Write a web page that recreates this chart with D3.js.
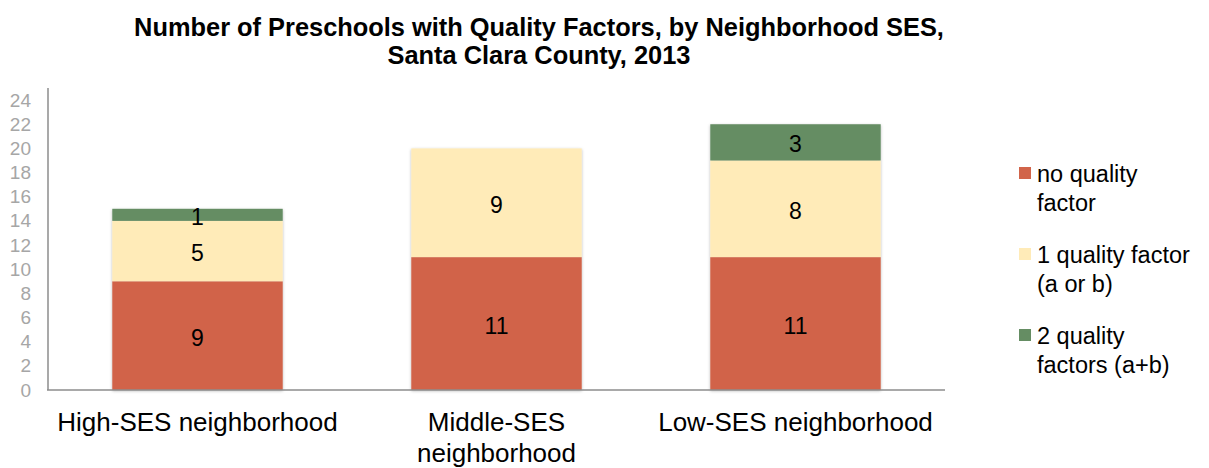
<!DOCTYPE html>
<html>
<head>
<meta charset="utf-8">
<script src="https://cdn.jsdelivr.net/npm/d3@7"></script>
<style>
  html, body { margin: 0; padding: 0; background: #fff; }
  svg { display: block; }
</style>
</head>
<body>
<svg id="chart" width="1209" height="468"></svg>
<script>
// Neighborhood categories (x axis)
const categories = ["High-SES neighborhood", "Middle-SES neighborhood", "Low-SES neighborhood"];
// Category label lines as drawn under the bars
const categoryLines = [["High-SES neighborhood"], ["Middle-SES", "neighborhood"], ["Low-SES neighborhood"]];
// Series, stacked bottom to top
const seriesNames = ["no quality factor", "1 quality factor (a or b)", "2 quality factors (a+b)"];
const noQuality = [9, 11, 11];
const oneQuality = [5, 9, 8];
const twoQuality = [1, 0, 3];
const seriesColors = ["#D1644A", "#FFEBB8", "#658D63"];
// Legend text lines per series
const legendLines = [["no quality", "factor"], ["1 quality factor", "(a or b)"], ["2 quality", "factors (a+b)"]];
// Y axis ticks
const yTicks = [0, 2, 4, 6, 8, 10, 12, 14, 16, 18, 20, 22, 24];

const svg = d3.select("#chart");

const rows = categories.map((c, i) => ({
  cat: c,
  s0: noQuality[i],
  s1: oneQuality[i],
  s2: twoQuality[i]
}));
const keys = ["s0", "s1", "s2"];
const stacked = d3.stack().keys(keys)(rows);

const x = d3.scaleBand().domain(categories).range([48, 945]).paddingInner(0.43).paddingOuter(0.215);
const y = d3.scaleLinear().domain([0, 25]).range([390, 88]);

// Soft shadow under the bars
const defs = svg.append("defs");
const f = defs.append("filter").attr("id", "shadow").attr("x", "-10%").attr("y", "-10%").attr("width", "120%").attr("height", "120%");
f.append("feDropShadow").attr("dx", 0).attr("dy", 1).attr("stdDeviation", 1.6).attr("flood-color", "#000").attr("flood-opacity", 0.28);

// Title
const title = svg.append("text")
  .attr("text-anchor", "middle")
  .attr("font-family", "'Liberation Sans', Arial, sans-serif")
  .attr("font-weight", "bold")
  .attr("font-size", 25.4)
  .attr("fill", "#000");
title.append("tspan").attr("x", 539).attr("y", 36).text("Number of Preschools with Quality Factors, by Neighborhood SES,");
title.append("tspan").attr("x", 539).attr("y", 64).text("Santa Clara County, 2013");

// Bars
const barG = svg.append("g").attr("filter", "url(#shadow)");
stacked.forEach((layer, li) => {
  barG.selectAll(null)
    .data(layer.filter(d => d[1] - d[0] > 0))
    .join("rect")
    .attr("x", d => x(d.data.cat))
    .attr("width", x.bandwidth())
    .attr("y", d => y(d[1]))
    .attr("height", d => y(d[0]) - y(d[1]))
    .attr("fill", seriesColors[li]);
});

// Value labels
stacked.forEach((layer, li) => {
  svg.selectAll(null)
    .data(layer.filter(d => d[1] - d[0] > 0))
    .join("text")
    .attr("x", d => x(d.data.cat) + x.bandwidth() / 2)
    .attr("y", d => (y(d[0]) + y(d[1])) / 2)
    .attr("dy", "0.44em")
    .attr("text-anchor", "middle")
    .attr("font-family", "'Liberation Sans', Arial, sans-serif")
    .attr("font-size", 23)
    .attr("fill", "#000")
    .text(d => d[1] - d[0]);
});

// Y axis
const yAxis = d3.axisLeft(y).tickValues(yTicks).tickSize(0).tickPadding(17);
const yg = svg.append("g").attr("transform", "translate(48,0)").call(yAxis);
yg.select(".domain").remove();
yg.selectAll("text")
  .attr("font-family", "'Liberation Sans', Arial, sans-serif")
  .attr("font-size", 19)
  .attr("fill", "#A6A6A6");

// Axis lines
svg.append("line").attr("x1", 48).attr("x2", 48).attr("y1", 88).attr("y2", 390)
  .attr("stroke", "#8C8C8C").attr("stroke-width", 1.5);
svg.append("line").attr("x1", 47).attr("x2", 945).attr("y1", 390).attr("y2", 390)
  .attr("stroke", "#8C8C8C").attr("stroke-width", 1.5);

// Category labels
categoryLines.forEach((lines, i) => {
  const t = svg.append("text")
    .attr("text-anchor", "middle")
    .attr("font-family", "'Liberation Sans', Arial, sans-serif")
    .attr("font-size", 26)
    .attr("fill", "#000");
  lines.forEach((ln, j) => {
    t.append("tspan")
      .attr("x", x(categories[i]) + x.bandwidth() / 2)
      .attr("y", 431 + j * 31)
      .text(ln);
  });
});

// Legend
const legendTop = [173, 254, 335];
seriesNames.forEach((name, i) => {
  const g = svg.append("g");
  g.append("rect")
    .attr("x", 1019).attr("y", legendTop[i] - 6)
    .attr("width", 12).attr("height", 12)
    .attr("fill", seriesColors[i]);
  const t = g.append("text")
    .attr("font-family", "'Liberation Sans', Arial, sans-serif")
    .attr("font-size", 23.5)
    .attr("fill", "#000");
  legendLines[i].forEach((ln, j) => {
    t.append("tspan").attr("x", 1037).attr("y", legendTop[i] + 9 + j * 28.5).text(ln);
  });
});
</script>
</body>
</html>
